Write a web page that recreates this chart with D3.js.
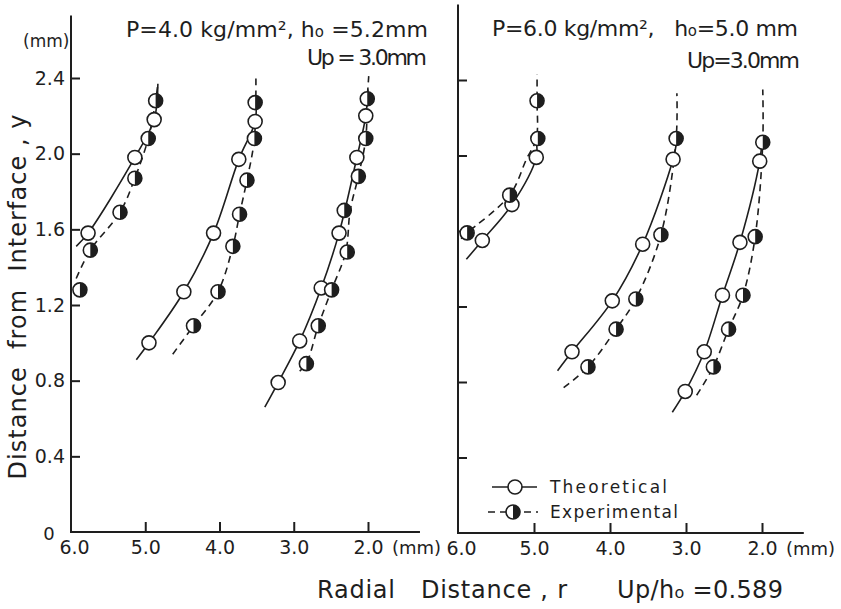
<!DOCTYPE html>
<meta charset="utf-8">
<style>
    body { margin: 0; background: #fff; }
    text { font-family: "DejaVu Sans", sans-serif; fill: #1e1e1e; white-space: pre; }
    .ax path, .ax line { stroke: #1e1e1e; stroke-width: 2; }
    .curve { fill: none; stroke: #1e1e1e; stroke-width: 1.6; }
    .dash { stroke-dasharray: 7,5; }
</style>
<body>
<div id="chart"></div>
<script src="https://d3js.org/d3.v7.min.js"></script>
<script>

    // tick values (mm)
    var xTicks = [6.0, 5.0, 4.0, 3.0, 2.0],
        yTicks = [0.4, 0.8, 1.2, 1.6, 2.0, 2.4];

    // left panel : P=4.0, ho=5.2  -- [r, y] in mm
    var leftTheoPts = [
        [[5.77, 1.58], [5.14, 1.98], [4.88, 2.18]],
        [[4.95, 1.00], [4.48, 1.27], [4.08, 1.58], [3.74, 1.97], [3.52, 2.17]],
        [[3.21, 0.79], [2.92, 1.01], [2.63, 1.29], [2.39, 1.58], [2.15, 1.98], [2.03, 2.20]]
    ];
    var leftExpPts = [
        [[5.88, 1.28], [5.74, 1.49], [5.34, 1.69], [5.14, 1.87], [4.96, 2.08], [4.86, 2.28]],
        [[4.35, 1.09], [4.02, 1.27], [3.82, 1.51], [3.73, 1.68], [3.63, 1.86], [3.53, 2.08], [3.52, 2.27]],
        [[2.83, 0.89], [2.67, 1.09], [2.49, 1.28], [2.28, 1.48], [2.32, 1.70], [2.13, 1.88], [2.03, 2.08], [2.01, 2.29]]
    ];
    var leftTheoCurves = [
        [[5.93, 1.51], [5.77, 1.58], [5.14, 1.98], [4.88, 2.18], [4.83, 2.37]],
        [[5.12, 0.91], [4.95, 1.00], [4.48, 1.27], [4.08, 1.58], [3.74, 1.97], [3.52, 2.17], [3.51, 2.30]],
        [[3.39, 0.66], [3.21, 0.79], [2.92, 1.01], [2.63, 1.29], [2.39, 1.58], [2.15, 1.98], [2.03, 2.20], [2.00, 2.34]]
    ];
    var leftExpCurves = [
        [[5.93, 1.34], [5.74, 1.49], [5.34, 1.69], [5.14, 1.87], [4.96, 2.08], [4.86, 2.28], [4.83, 2.37]],
        [[4.63, 0.94], [4.35, 1.09], [4.02, 1.27], [3.82, 1.51], [3.73, 1.68], [3.63, 1.86], [3.53, 2.08], [3.51, 2.42]],
        [[2.92, 0.85], [2.83, 0.89], [2.67, 1.09], [2.49, 1.28], [2.30, 1.48], [2.24, 1.70], [2.13, 1.88], [2.03, 2.08], [2.01, 2.29], [1.99, 2.41]]
    ];

    // right panel : P=6.0, ho=5.0
    var rightTheoPts = [
        [[5.68, 1.55], [5.29, 1.74], [4.97, 1.99]],
        [[4.50, 0.96], [3.97, 1.23], [3.57, 1.53], [3.17, 1.98]],
        [[3.01, 0.75], [2.76, 0.96], [2.52, 1.26], [2.29, 1.54], [2.03, 1.97]]
    ];
    var rightExpPts = [
        [[5.88, 1.59], [5.32, 1.79], [4.95, 2.09], [4.96, 2.29]],
        [[4.29, 0.88], [3.92, 1.08], [3.66, 1.24], [3.33, 1.58], [3.13, 2.09]],
        [[2.64, 0.88], [2.44, 1.08], [2.25, 1.26], [2.09, 1.57], [1.99, 2.07]]
    ];
    var rightTheoCurves = [
        [[5.89, 1.45], [5.68, 1.55], [5.29, 1.74], [4.97, 1.99], [4.97, 2.07]],
        [[4.69, 0.86], [4.50, 0.96], [3.97, 1.23], [3.57, 1.53], [3.17, 1.98], [3.12, 2.08]],
        [[3.18, 0.64], [3.01, 0.75], [2.76, 0.96], [2.52, 1.26], [2.29, 1.54], [2.03, 1.97], [2.00, 2.08]]
    ];
    var rightExpCurves = [
        [[5.96, 1.56], [5.88, 1.59], [5.32, 1.79], [5.10, 1.98], [4.97, 2.09], [4.96, 2.29], [4.96, 2.43]],
        [[4.61, 0.77], [4.29, 0.88], [3.92, 1.08], [3.66, 1.24], [3.33, 1.58], [3.13, 2.09], [3.12, 2.33]],
        [[2.86, 0.73], [2.64, 0.88], [2.44, 1.08], [2.25, 1.26], [2.09, 1.57], [1.99, 2.07], [1.99, 2.35]]
    ];

    var ink = "#1e1e1e";
    var svg_dx = 841, svg_dy = 609;
    var rad = 7;

    var svg = d3.select("#chart")
        .append("svg")
        .attr("width", svg_dx)
        .attr("height", svg_dy);

    var panels = [
        { x: d3.scaleLinear().domain([6, 2]).range([71, 368]),
          y: d3.scaleLinear().domain([0, 2.4]).range([532, 78]),
          top: 2.73, right: 1.3, labels: true,
          theoPts: leftTheoPts, expPts: leftExpPts,
          theoCurves: leftTheoCurves, expCurves: leftExpCurves },
        { x: d3.scaleLinear().domain([6, 2]).range([458, 762]),
          y: d3.scaleLinear().domain([0, 2.4]).range([533, 80]),
          top: 2.8, right: 1.45, labels: false,
          theoPts: rightTheoPts, expPts: rightExpPts,
          theoCurves: rightTheoCurves, expCurves: rightExpCurves }
    ];

    var fmt = d3.format(".1f");
    var halfArc = d3.arc().innerRadius(0).outerRadius(rad).startAngle(0).endAngle(Math.PI);

    function openMark(g, px, py) {
        g.append("circle")
            .attr("cx", px).attr("cy", py).attr("r", rad)
            .attr("fill", "#fff").attr("stroke", ink).attr("stroke-width", 1.6);
    }

    function halfMark(g, px, py) {
        openMark(g, px, py);
        g.append("path")
            .attr("d", halfArc())
            .attr("transform", "translate(" + px + "," + py + ")")
            .attr("fill", ink);
    }

    panels.forEach(function(p) {

        var g = svg.append("g");

        // axis lines
        g.append("line")
            .attr("x1", p.x(6)).attr("x2", p.x(6))
            .attr("y1", p.y(0) + 1).attr("y2", p.y(p.top))
            .attr("stroke", ink).attr("stroke-width", 2);
        g.append("line")
            .attr("x1", p.x(6)).attr("x2", p.x(p.right))
            .attr("y1", p.y(0)).attr("y2", p.y(0))
            .attr("stroke", ink).attr("stroke-width", 2);

        var yAxis = d3.axisLeft(p.y)
            .tickValues(yTicks)
            .tickSize(-9)
            .tickPadding(6)
            .tickFormat(p.labels ? fmt : "");
        var ya = g.append("g").attr("class", "ax")
            .attr("transform", "translate(" + p.x(6) + ",0)")
            .call(yAxis);
        ya.select(".domain").remove();
        ya.selectAll("text").style("font-size", "19px").style("font-family", "DejaVu Sans");

        var xAxis = d3.axisBottom(p.x)
            .tickValues(xTicks)
            .tickSize(-10)
            .tickPadding(9)
            .tickFormat(fmt);
        var xa = g.append("g").attr("class", "ax")
            .attr("transform", "translate(0," + p.y(0) + ")")
            .call(xAxis);
        xa.select(".domain").remove();
        xa.selectAll("text").style("font-size", "19px").style("font-family", "DejaVu Sans");
        xa.selectAll(".tick").filter(function(d) { return d === 6; })
            .select("text").attr("dx", 3);
        xa.selectAll(".tick").filter(function(d) { return d === 6; }).select("line").remove();

        g.append("text")
            .attr("x", p.x(2) + 24).attr("y", p.y(0) + 22)
            .style("font-size", "18px")
            .text("(mm)");

        var line = d3.line()
            .x(function(d) { return p.x(d[0]); })
            .y(function(d) { return p.y(d[1]); })
            .curve(d3.curveCatmullRom.alpha(0.5));

        p.theoCurves.forEach(function(c) {
            g.append("path").attr("class", "curve").attr("d", line(c));
        });
        p.expCurves.forEach(function(c) {
            g.append("path").attr("class", "curve dash").attr("d", line(c));
        });

        p.theoPts.forEach(function(s) {
            s.forEach(function(d) { openMark(g, p.x(d[0]), p.y(d[1])); });
        });
        p.expPts.forEach(function(s) {
            s.forEach(function(d) { halfMark(g, p.x(d[0]), p.y(d[1])); });
        });
    });

    // left panel extras
    svg.append("text").attr("x", 49).attr("y", 540)
        .attr("text-anchor", "middle").style("font-size", "18px").text("0");
    svg.append("text").attr("x", 23).attr("y", 47)
        .style("font-size", "17px").text("(mm)");

    svg.append("text")
        .attr("transform", "translate(26,297) rotate(-90)")
        .attr("text-anchor", "middle")
        .attr("textLength", 365).attr("lengthAdjust", "spacing")
        .style("font-size", "24px")
        .text("Distance  from  Interface , y");

    // headings
    function heading(x, y, len, parts) {
        var t = svg.append("text")
            .attr("x", x).attr("y", y)
            .style("font-size", "22px");
        if (len) t.attr("textLength", len).attr("lengthAdjust", "spacing");
        parts.forEach(function(pt) {
            var s = t.append("tspan").text(pt[0]);
            if (pt[1]) s.style("font-size", "15px");
        });
    }

    heading(126, 37, 302, [["P=4.0 kg/mm², h"], ["o", true], [" =5.2mm"]]);
    heading(307, 65, 120, [["Up = 3.0mm"]]);
    heading(492, 36, 306, [["P=6.0 kg/mm²,   h"], ["o", true], ["=5.0 mm"]]);
    heading(687, 68, 113, [["Up=3.0mm"]]);

    // bottom titles
    svg.append("text").attr("x", 317).attr("y", 598)
        .attr("textLength", 250).attr("lengthAdjust", "spacing")
        .style("font-size", "24px").text("Radial   Distance , r");
    var up = svg.append("text").attr("x", 617).attr("y", 598)
        .attr("textLength", 166).attr("lengthAdjust", "spacing")
        .style("font-size", "24px");
    up.append("tspan").text("Up/h");
    up.append("tspan").style("font-size", "16px").text("o");
    up.append("tspan").text(" =0.589");

    // legend
    var lg = svg.append("g");
    lg.append("line").attr("x1", 492).attr("x2", 537).attr("y1", 487).attr("y2", 487)
        .attr("stroke", ink).attr("stroke-width", 1.6);
    openMark(lg, 515, 487);
    lg.append("line").attr("x1", 488).attr("x2", 538).attr("y1", 512).attr("y2", 512)
        .attr("stroke", ink).attr("stroke-width", 1.6).attr("stroke-dasharray", "7,5");
    halfMark(lg, 513, 512);
    lg.append("text").attr("x", 550).attr("y", 493)
        .attr("textLength", 117).attr("lengthAdjust", "spacing")
        .style("font-size", "17px").text("Theoretical");
    lg.append("text").attr("x", 550).attr("y", 518)
        .attr("textLength", 128).attr("lengthAdjust", "spacing")
        .style("font-size", "17px").text("Experimental");

</script>
</body>
